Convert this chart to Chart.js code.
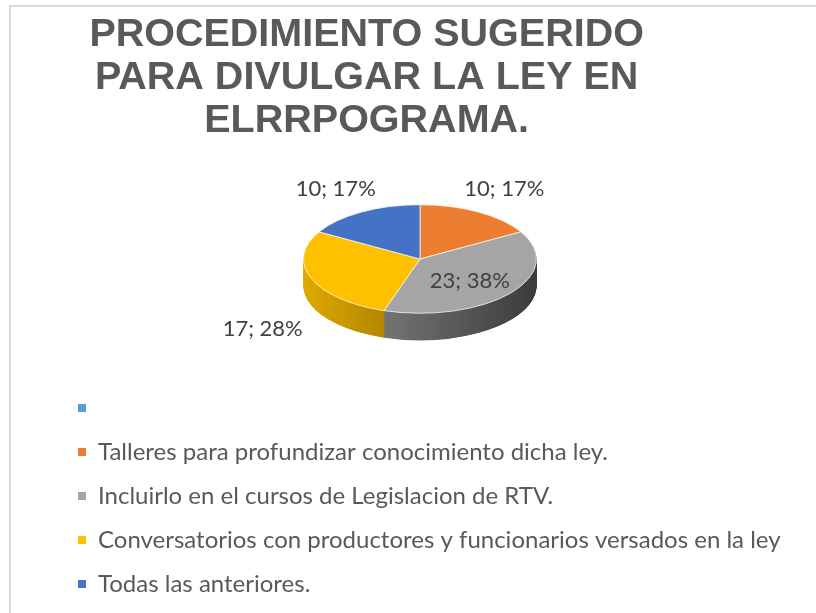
<!DOCTYPE html>
<html>
<head>
<meta charset="utf-8">
<script src="https://cdn.jsdelivr.net/npm/chart.js@4.4.1/dist/chart.umd.min.js"></script>
<style>
  html, body { margin: 0; padding: 0; background: #ffffff; }
  #wrap { width: 816px; height: 613px; }
</style>
</head>
<body>
<div id="wrap"><canvas id="chart" width="816" height="613"></canvas></div>
<script>
const titleLines = ["PROCEDIMIENTO SUGERIDO", "PARA DIVULGAR LA LEY EN", "ELRRPOGRAMA."];
const categories = [
    "",
    "Talleres para profundizar conocimiento dicha ley.",
    "Incluirlo en el cursos de Legislacion de RTV.",
    "Conversatorios con productores y funcionarios versados en la ley",
    "Todas las anteriores."
];
const counts = [0, 10, 23, 17, 10];
const sliceColors = ["#5B9BD5", "#ED7D31", "#A5A5A5", "#FFC000", "#4472C4"];

const textColor = "#595959";
const labelColor = "#404040";
const tilt = 0.466;     // vertical squash of the pie
const depth = 27;       // thickness of the pie, px
const shiftX = -7;      // small nudge of the pie inside the plot area
const titleTail = " ".repeat(11); // title block is centred left of the plot

function shade(hex, f) {
    const n = parseInt(hex.slice(1), 16);
    const r = Math.round(((n >> 16) & 255) * f);
    const g = Math.round(((n >> 8) & 255) * f);
    const b = Math.round((n & 255) * f);
    return `rgb(${r},${g},${b})`;
}

// fake 3D: squash the pie, draw a shaded side under it, then the labels
const pie3d = {
    id: "pie3d",
    beforeDraw(chart) {
        const ctx = chart.ctx;
        ctx.save();
        ctx.fillStyle = "#d9d9d9";
        ctx.fillRect(9, 5, chart.width, 2);
        ctx.fillRect(9, 5, 2, chart.height);
        ctx.restore();
    },
    beforeDatasetsDraw(chart) {
        const ctx = chart.ctx;
        const arcs = chart.getDatasetMeta(0).data;
        const cx = arcs[0].x, cy = arcs[0].y, r = arcs[0].outerRadius;
        ctx.save();
        ctx.translate(cx + shiftX, cy);
        ctx.scale(1, tilt);
        ctx.translate(-cx, -cy);
        const fills = arcs.map((arc, i) => {
            const g = ctx.createLinearGradient(cx - r, 0, cx + r, 0);
            g.addColorStop(0, shade(sliceColors[i], 0.88));
            g.addColorStop(1, shade(sliceColors[i], 0.36));
            return g;
        });
        const lift = depth / tilt;
        for (let d = lift; d > 0; d -= 1) {
            arcs.forEach((arc, i) => {
                if (arc.endAngle - arc.startAngle <= 0) return;
                ctx.beginPath();
                ctx.moveTo(cx, cy + d);
                ctx.arc(cx, cy + d, r, arc.startAngle, arc.endAngle);
                ctx.closePath();
                ctx.fillStyle = fills[i];
                ctx.fill();
            });
        }
    },
    afterDatasetsDraw(chart) {
        const ctx = chart.ctx;
        ctx.restore();
        const arcs = chart.getDatasetMeta(0).data;
        const total = counts.reduce((a, b) => a + b, 0);
        const cx = arcs[0].x + shiftX, cy = arcs[0].y, r = arcs[0].outerRadius;
        ctx.save();
        ctx.font = "22px Lato";
        ctx.fillStyle = labelColor;
        ctx.textAlign = "center";
        ctx.textBaseline = "middle";
        arcs.forEach((arc, i) => {
            const v = counts[i];
            if (!v) return;
            const share = v / total;
            const text = `${v}; ${Math.round(share * 100)}%`;
            const mid = (arc.startAngle + arc.endAngle) / 2;
            const cos = Math.cos(mid), sin = Math.sin(mid);
            let x, y;
            if (share > 0.3) {
                x = cx + 0.55 * r * cos;
                y = cy + 0.55 * r * tilt * sin + 3;
            } else {
                const w = ctx.measureText(text).width, h = 22, gap = 12;
                x = cx + r * cos + cos * (w / 2 + gap);
                y = cy + r * tilt * sin + (sin > 0 ? depth : 0) + Math.sign(sin) * (h / 2 + gap);
            }
            ctx.fillText(text, x, y);
        });
        ctx.restore();
    }
};

const ctx = document.getElementById("chart").getContext("2d");
const baseLabels = Chart.DoughnutController.overrides.plugins.legend.labels.generateLabels;

new Chart(ctx, {
    type: "pie",
    data: {
        labels: categories,
        datasets: [{
            data: counts,
            backgroundColor: sliceColors,
            borderColor: "#ffffff",
            borderWidth: 1,
            clip: false
        }]
    },
    options: {
        responsive: false,
        animation: false,
        events: [],
        layout: {
            padding: { left: 58, right: 20, top: 0, bottom: 7 }
        },
        plugins: {
            title: {
                display: true,
                text: titleLines.map(t => t + titleTail),
                color: textColor,
                font: { family: "'Liberation Sans', Arial, sans-serif", size: 39.5, weight: "bold", lineHeight: 1.08 },
                padding: { top: 14, bottom: 0 }
            },
            legend: {
                display: true,
                position: "bottom",
                align: "start",
                labels: {
                    color: textColor,
                    font: { family: "Lato", size: 24 },
                    boxWidth: 8,
                    boxHeight: 8,
                    padding: 20,
                    generateLabels(chart) {
                        const items = baseLabels(chart);
                        items.forEach(it => {
                            // blank category keeps its own row
                            if (!it.text) it.text = "\u2002".repeat(40);
                            it.lineWidth = 0;
                            it.strokeStyle = it.fillStyle;
                        });
                        return items;
                    }
                }
            },
            tooltip: { enabled: false }
        }
    },
    plugins: [pie3d]
});
</script>
</body>
</html>
